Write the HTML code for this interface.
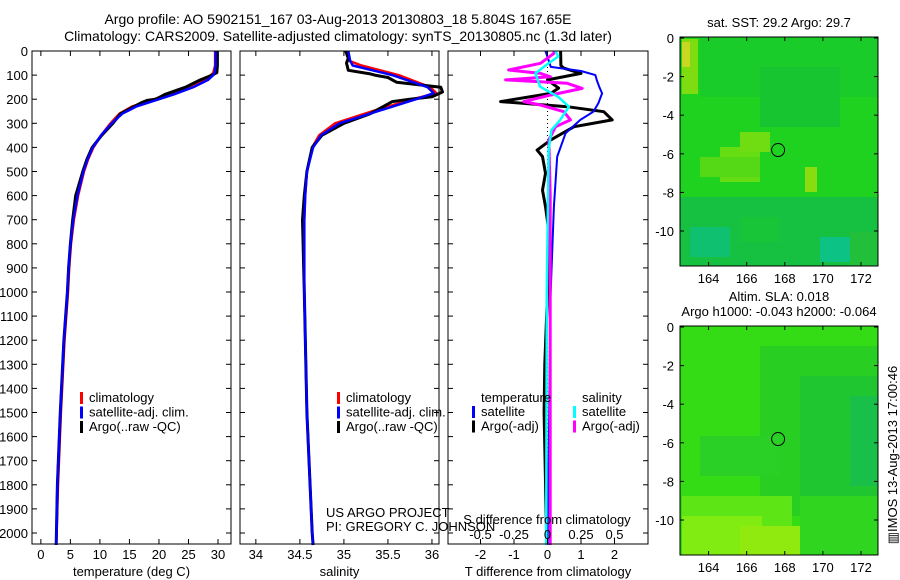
<!DOCTYPE html>
<html><head><meta charset="utf-8"><style>
html,body{margin:0;padding:0;background:#fff;}
svg{display:block;font-family:"Liberation Sans",Arial,sans-serif;}
text{font-size:13px;fill:#000;}
</style></head><body>
<svg id="chart" width="900" height="580" viewBox="0 0 900 580">
<g>
<text x="338" y="24" text-anchor="middle" style="font-size:14px">Argo profile: AO 5902151_167 03-Aug-2013 20130803_18 5.804S 167.65E</text>
<text x="338" y="41" text-anchor="middle" style="font-size:14px">Climatology: CARS2009. Satellite-adjusted climatology: synTS_20130805.nc (1.3d later)</text>
</g>
<g id="maps"></g>
<g id="panels"></g>
</svg>
<script>
// ---------------- data ----------------
const depthTicks=[0,100,200,300,400,500,600,700,800,900,1000,1100,1200,1300,1400,1500,1600,1700,1800,1900,2000];
const tempTicks=[0,5,10,15,20,25,30];
const salTicks=[34,34.5,35,35.5,36];
const salTickLabels=['34','34.5','35','35.5','36'];
const tdiffTicks=[-2,-1,0,1,2];
const sdiffTicks=[-0.5,-0.25,0,0.25,0.5];
const sdiffTickLabels=['-0.5','-0.25','0','0.25','0.5'];

const tDepth=[0,60,90,100,120,150,180,200,230,260,300,350,400,450,500,600,700,800,900,1000,1200,1500,1800,2050];
const tClim=[29.5,29.5,29.2,28.8,27.5,24.8,21.5,19.2,15.5,13.3,11.8,10.2,8.9,8.0,7.3,6.3,5.6,5.1,4.8,4.6,4.0,3.4,2.9,2.6];
const tSat=[29.6,29.6,29.4,29.2,28.3,25.8,22.5,20.0,16.2,13.8,12.0,10.2,8.8,7.9,7.2,6.2,5.5,5.0,4.7,4.5,3.9,3.3,2.8,2.6];
const tArgoD=[0,60,90,100,120,150,180,200,205,215,230,260,300,350,400,450,500,600,700,800,900,1000,1200,1500,1800,2050];
const tArgo=[29.9,29.9,29.8,29.0,27.0,24.5,21.0,19.5,18.0,17.0,15.8,13.5,12.2,10.3,8.7,7.8,7.1,5.9,5.4,5.0,4.7,4.5,3.9,3.3,2.8,2.6];

const sDepth=[0,40,60,100,150,175,200,250,300,350,400,500,600,700,1000,1500,2000,2050];
const sClim=[35.03,35.05,35.2,35.62,35.98,36.05,35.78,35.32,34.9,34.72,34.64,34.58,34.56,34.55,34.55,34.58,34.64,34.65];
const sSat=[35.05,35.07,35.1,35.55,35.95,36.02,35.82,35.38,34.95,34.74,34.65,34.58,34.56,34.55,34.55,34.58,34.64,34.65];
const sArgoD=[0,30,50,80,95,100,110,130,150,170,190,200,210,230,260,300,350,400,500,600,700,1000,1500,2000,2050];
const sArgo=[35.02,35.05,35.03,35.05,35.3,35.35,35.5,35.6,36.1,36.12,36.0,35.75,35.55,35.45,35.3,35.0,34.75,34.64,34.58,34.55,34.53,34.55,34.58,34.64,34.65];

const dDepth=[0,66,83,100,120,150,176,216,252,286,341,438,646,1020,1500,2050];
const dTSat=[-0.06,0.1,1.0,1.43,1.47,1.55,1.63,1.52,1.37,0.98,0.54,0.29,0.19,0.09,0.05,0.0];
const dTArgoD=[0,60,71,93,120,154,176,210,231,252,286,314,369,411,438,507,577,646,729,1000,1300,1500,2050];
const dTArgo=[0.39,0.4,0.48,1.0,0.0,0.33,0.1,-1.4,0.59,1.68,1.93,0.79,0.1,-0.31,-0.15,-0.06,-0.15,-0.06,0.02,0.0,-0.08,-0.1,-0.02];
const dSSatD=[0,23,58,93,148,190,231,286,328,411,1000,2050];
const dSSat=[0.06,0.08,-0.01,-0.09,-0.055,0.08,0.16,0.095,0.03,0.008,-0.005,-0.01];
const dSArgoD=[0,10,51,79,93,107,120,134,155,183,210,224,252,286,314,369,600,1000,2050];
const dSArgo=[0.05,0.047,-0.052,-0.29,-0.052,0.022,-0.313,0.147,0.259,0.022,-0.177,-0.052,0.122,0.172,0.06,0.01,0.02,0.02,0.02];

const lonTicks=[164,166,168,170,172];
const latTicks=[0,-2,-4,-6,-8,-10];
const argoLon=167.65, argoLat=-5.804;

// ---------------- helpers ----------------
const NS='http://www.w3.org/2000/svg';
function mk(tag,attrs,parent,txt){const e=document.createElementNS(NS,tag);for(const k in attrs)e.setAttribute(k,attrs[k]);if(txt!==undefined)e.textContent=txt;parent.appendChild(e);return e;}
const PT=51,PB=544;
const yD=d=>PT+(d)*0.241;
const panels=document.getElementById('panels');

function panel(name,x0,x1,xmin,xmax){
  const g=mk('g',{},panels);
  
  
  const sx=v=>x0+(v-xmin)/(xmax-xmin)*(x1-x0);
  return {g,sx,x0,x1};
}
function frame(p,xticks,labels,title){
  const ax=mk('g',{},p.g);
  
  
  mk('rect',{x:p.x0,y:PT,width:p.x1-p.x0,height:PB-PT,fill:'none',stroke:'#000','stroke-width':1},ax);
  depthTicks.forEach(d=>{const y=yD(d);mk('line',{x1:p.x0,x2:p.x0+5,y1:y,y2:y,stroke:'#000'},ax);mk('line',{x1:p.x1-5,x2:p.x1,y1:y,y2:y,stroke:'#000'},ax);});
  xticks.forEach((v,i)=>{const x=p.sx(v);mk('line',{x1:x,x2:x,y1:PB,y2:PB-5,stroke:'#000'},ax);mk('line',{x1:x,x2:x,y1:PT,y2:PT+5,stroke:'#000'},ax);
    const t=mk('text',{x:x,y:559,'text-anchor':'middle'},ax,labels[i]);
    
    });
  const tt=mk('text',{x:(p.x0+p.x1)/2,y:576,'text-anchor':'middle'},ax,title);
  
  
}
function line(p,xs,ds,color,w,name,scale){
  const pts=xs.map((v,i)=>p.sx(v*(scale||1)).toFixed(1)+','+yD(ds[i]).toFixed(1)).join(' ');
  const l=mk('polyline',{points:pts,fill:'none',stroke:color,'stroke-width':w,'stroke-linejoin':'round'},p.g);
  
  
}
function legend(p,x,y,items){
  const lg=mk('g',{},p.g);
  
  
  items.forEach((it,i)=>{
    if(it[0])mk('rect',{x:x,y:y+i*14.5-10,width:3,height:12,fill:it[0]},lg);
    const t=mk('text',{x:x+(it[0]?9:0),y:y+i*14.5},lg,it[1]);
    
    
  });
}

// panel 1 temperature
const p1=panel('temperature-panel',32,231,-1.5,32.2);
line(p1,tClim,tDepth,'#f00',2.5,'temp-climatology-line');
line(p1,tArgo,tArgoD,'#000',3,'temp-argo-line');
line(p1,tSat,tDepth,'#00f',2.5,'temp-satellite-line');
frame(p1,tempTicks,tempTicks.map(String),'temperature (deg C)');
depthTicks.forEach(d=>{const t=mk('text',{x:28,y:yD(d)+5,'text-anchor':'end'},p1.g,String(d));
  
  });
legend(p1,80,402,[['#f00','climatology'],['#00f','satellite-adj. clim.'],['#000','Argo(..raw -QC)']]);

// panel 2 salinity
const p2=panel('salinity-panel',240,439,33.82,36.08);
line(p2,sClim,sDepth,'#f00',2.5,'sal-climatology-line');
line(p2,sArgo,sArgoD,'#000',3,'sal-argo-line');
line(p2,sSat,sDepth,'#00f',2.5,'sal-satellite-line');
frame(p2,salTicks,salTickLabels,'salinity');
legend(p2,337,402,[['#f00','climatology'],['#00f','satellite-adj. clim.'],['#000','Argo(..raw -QC)']]);
mk('text',{x:326,y:517},p2.g,'US ARGO PROJECT');
mk('text',{x:326,y:531},p2.g,'PI: GREGORY C. JOHNSON');

// panel 3 differences
const p3=panel('difference-panel',448,648,-2.97,3.0);
mk('line',{x1:p3.sx(0),x2:p3.sx(0),y1:PT,y2:PB,stroke:'#000','stroke-dasharray':'1,3'},p3.g);
line(p3,dTArgo,dTArgoD,'#000',3,'tdiff-argo-line');
line(p3,dTSat,dDepth,'#00f',2,'tdiff-satellite-line');
line(p3,dSArgo,dSArgoD,'#f0f',3,'sdiff-argo-line',4);
line(p3,dSSat,dSSatD,'#0ff',2.5,'sdiff-satellite-line',4);
frame(p3,tdiffTicks,tdiffTicks.map(String),'T difference from climatology');
sdiffTicks.forEach((v,i)=>{const t=mk('text',{x:p3.sx(v*4),y:539,'text-anchor':'middle'},p3.g,sdiffTickLabels[i]);
  
  });
const st=mk('text',{x:547,y:524,'text-anchor':'middle'},p3.g,'S difference from climatology');


legend(p3,481,402,[[null,'temperature']]);
legend(p3,472,416,[['#00f','satellite'],['#000','Argo(-adj)']]);
legend(p3,582,402,[[null,'salinity']]);
legend(p3,573,416,[['#0ff','satellite'],['#f0f','Argo(-adj)']]);

// ---------------- maps ----------------
const maps=document.getElementById('maps');
function map(name,top,base,patches,titles){
  const g=mk('g',{},maps);
  
  
  const L=680,R=878,B=top+229;
  const mx=v=>L+(v-162.5)*19.05, my=v=>top+1-v*19.3;
  mk('rect',{x:L,y:top,width:R-L,height:B-top,fill:base},g);
  patches.forEach(p=>mk('rect',{x:p[0],y:top+p[1],width:p[2],height:p[3],fill:p[4]},g));
  mk('circle',{cx:mx(argoLon),cy:my(argoLat),r:6.5,fill:'none',stroke:'#000','stroke-width':1},g);
  mk('rect',{x:L,y:top,width:R-L,height:B-top,fill:'none',stroke:'#000'},g);
  lonTicks.forEach(v=>{const x=mx(v);mk('line',{x1:x,x2:x,y1:B,y2:B-4,stroke:'#000'},g);mk('line',{x1:x,x2:x,y1:top,y2:top+4,stroke:'#000'},g);
    const t=mk('text',{x:x,y:B+17,'text-anchor':'middle'},g,String(v));
    
    });
  latTicks.forEach(v=>{const y=my(v);mk('line',{x1:L,x2:L+4,y1:y,y2:y,stroke:'#000'},g);mk('line',{x1:R-4,x2:R,y1:y,y2:y,stroke:'#000'},g);
    const t=mk('text',{x:L-6,y:y+5,'text-anchor':'end'},g,String(v));
    
    });
  titles.forEach((s,i)=>{const t=mk('text',{x:779,y:top-10+i*15-(titles.length-1)*15,'text-anchor':'middle'},g,s);
    
    });
}
map('sst-map',37,'#1fd21f',[
 [682,2,16,55,'#7fdc10'],[682,5,8,25,'#c8d820'],[700,0,178,60,'#19cc2a'],[760,30,80,60,'#16c530'],
 [720,110,40,35,'#66dd12'],[740,95,30,20,'#70dc12'],[700,120,60,20,'#55d815'],[805,130,12,25,'#88dc10'],
 [680,160,198,69,'#16c040'],[690,190,40,30,'#0fc070'],[820,200,30,25,'#0cc385'],[850,195,28,34,'#22c03a'],[740,180,40,25,'#18c438']
],['sat. SST: 29.2 Argo: 29.7']);
map('sla-map',326,'#33dc15',[
 [760,20,118,170,'#28cf22'],[800,50,78,130,'#20c630'],[850,70,28,90,'#18bf48'],[700,110,80,40,'#2ad025'],
 [682,170,110,59,'#5ee515'],[682,190,80,39,'#80ec12'],[740,200,60,29,'#90ea10'],[800,170,78,59,'#30d520']
],['Altim. SLA: 0.018','Argo h1000: -0.043 h2000: -0.064']);
const side=mk('text',{x:897,y:455,transform:'rotate(-90 897 455)','text-anchor':'middle'},maps,'\u25A5IMOS 13-Aug-2013 17:00:46');


</script>
</body></html>
